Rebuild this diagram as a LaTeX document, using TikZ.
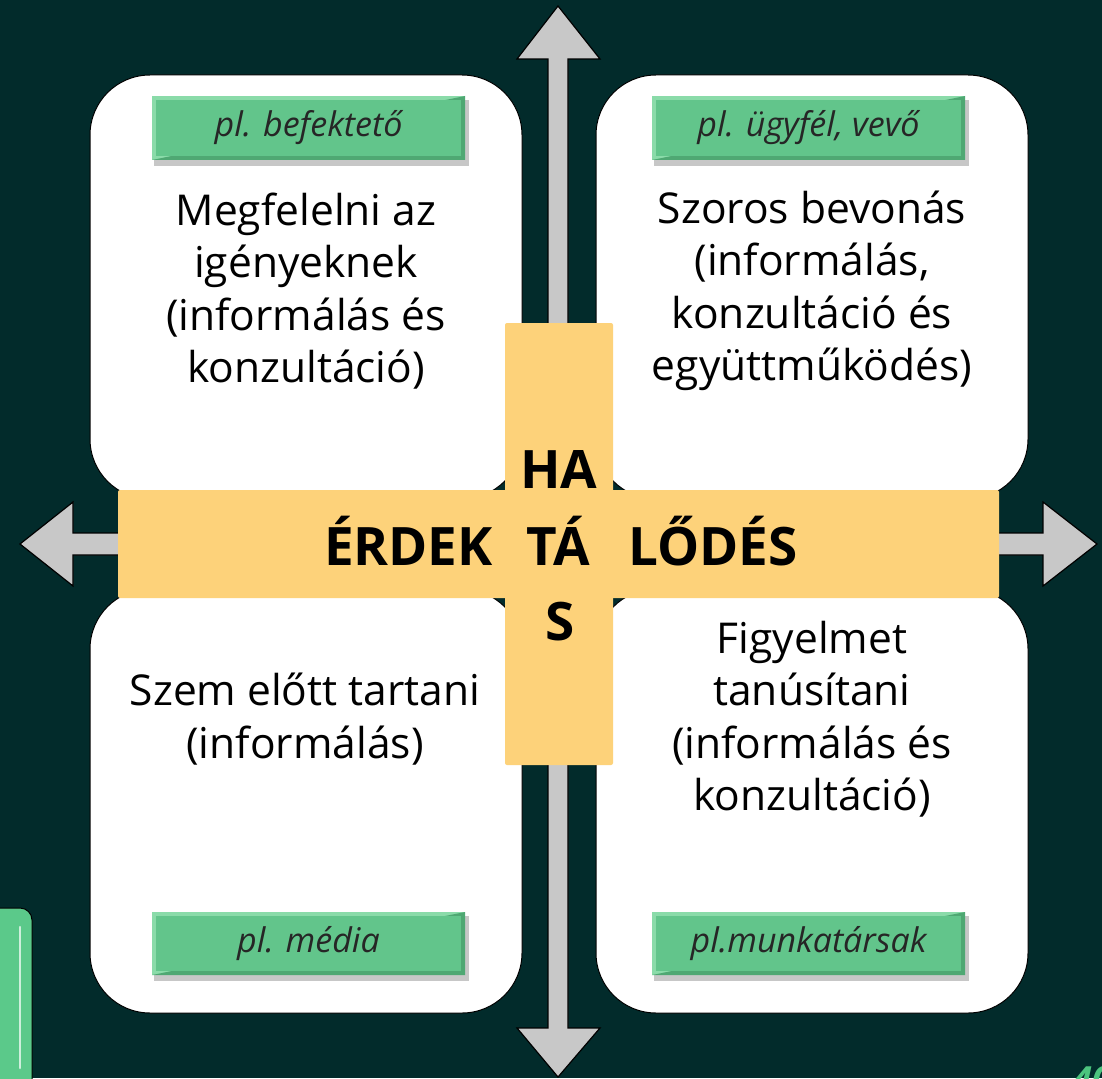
\documentclass[tikz,border=0pt]{standalone}
\usepackage{fontspec}
\setmainfont{Open Sans}
\definecolor{bgc}{HTML}{022B2B}
\definecolor{arrowgray}{HTML}{C8C8C8}
\definecolor{yel}{HTML}{FDD27A}
\definecolor{grn}{HTML}{62C58B}
\definecolor{grnlight}{HTML}{8ADBA9}
\definecolor{grndark}{HTML}{4FA873}
\definecolor{tabgrn}{HTML}{5BC98A}
\definecolor{pagegrn}{HTML}{4CC47E}
\tikzset{
  wbox/.style={draw=black, line width=1pt, fill=white, rounded corners=60pt,
    minimum width=432pt, minimum height=424pt, inner sep=0pt},
  ybar/.style={fill=yel, rounded corners=2pt, inner sep=0pt},
  bodytext/.style={align=center, text=black, font=\fontsize{42.5}{52.5}\selectfont, inner sep=0pt},
  bigtext/.style={text=black, font=\bfseries\fontsize{53}{60}\selectfont, inner sep=0pt},
  labeltext/.style={text=black!85, font=\itshape\fontsize{34}{40}\selectfont, inner sep=0pt},
  arrowshape/.style={fill=arrowgray, draw=black, line width=1.2pt, line join=miter},
}
\newcommand{\greenlabel}[5]{% name, x1, y1, x2, y2
  \fill[black, opacity=0.22] (#2+2,#3+4) rectangle (#4+4,#5+6);
  \fill[grnlight] (#2,#3) rectangle (#4,#5);
  \fill[grndark] (#2,#5) -- (#4,#5) -- (#4,#3) -- cycle;
  \fill[grn] (#2+4,#3+4) rectangle (#4-4,#5-4);
  \coordinate (#1) at ({(#2+#4)/2},{(#3+#5)/2});
}
\begin{document}
\begin{tikzpicture}[x=1pt, y=-1pt]
\useasboundingbox (0,0) rectangle (1102,1078);
\fill[bgc] (0,0) rectangle (1102,1078);

% arrows
\draw[arrowshape] (558,6) -- (600,59) -- (568,59) -- (568,1028) -- (600,1028) -- (558,1077)
  -- (517,1028) -- (548,1028) -- (548,59) -- (517,59) -- cycle;
\draw[arrowshape] (20,544) -- (73,502) -- (73,533) -- (1043,533) -- (1043,502) -- (1097,544)
  -- (1043,586) -- (1043,555) -- (73,555) -- (73,586) -- cycle;

% white quadrants
\node[wbox] (tl) at (306,287) {};
\node[wbox] (tr) at (812,287) {};
\node[wbox] (bl) at (306,801) {};
\node[wbox] (br) at (812,801) {};

% yellow cross
\node[ybar, minimum width=881pt, minimum height=108pt] (hbar) at (558.5,544) {};
\node[ybar, minimum width=108pt, minimum height=442pt] (vbar) at (559,544) {};

% cross text
\node[bigtext, anchor=base east] (erdek) at (493,565) {ÉRDEK};
\node[bigtext, anchor=base] (ta) at (558,565) {TÁ};
\node[bigtext, anchor=base west] (lodes) at (628,565) {LŐDÉS};
\node[bigtext, anchor=base] (ha) at (559,488) {HA};
\node[bigtext, anchor=base] (s) at (560,640) {S};

% body texts
\node[bodytext] (ttl) at (306,291) {Megfelelni az\\igényeknek\\(informálás és\\konzultáció)};
\node[bodytext] (ttr) at (812,291) {Szoros bevonás\\(informálás,\\konzultáció és\\együttműködés)};
\node[bodytext] (tbl) at (305,719) {Szem előtt tartani\\(informálás)};
\node[bodytext] (tbr) at (812,719) {Figyelmet\\tanúsítani\\(informálás és\\konzultáció)};

% green labels
\greenlabel{g1}{152}{96}{465}{160}
\node[labeltext] (l1) at (g1) {pl. befektető};
\greenlabel{g2}{652}{96}{965}{160}
\node[labeltext] (l2) at (g2) {pl. ügyfél, vevő};
\greenlabel{g3}{152}{912}{465}{975}
\node[labeltext] (l3) at (g3) {pl. média};
\greenlabel{g4}{652}{912}{965}{975}
\node[labeltext] (l4) at (g4) {pl.munkatársak};

% side tab bottom-left
\draw[fill=tabgrn, draw=black, line width=1pt, rounded corners=12pt] (-30,908) rectangle (32,1110);
\draw[white!70!tabgrn, line width=2.5pt, line cap=round] (20,927) -- (20,1068);

% page number (cut off at the edge, as in the reference)
\node[anchor=north west, text=pagegrn, font=\bfseries\itshape\fontsize{36}{40}\selectfont, inner sep=0pt] (pg) at (1072,1066) {40};
\end{tikzpicture}
\end{document}
